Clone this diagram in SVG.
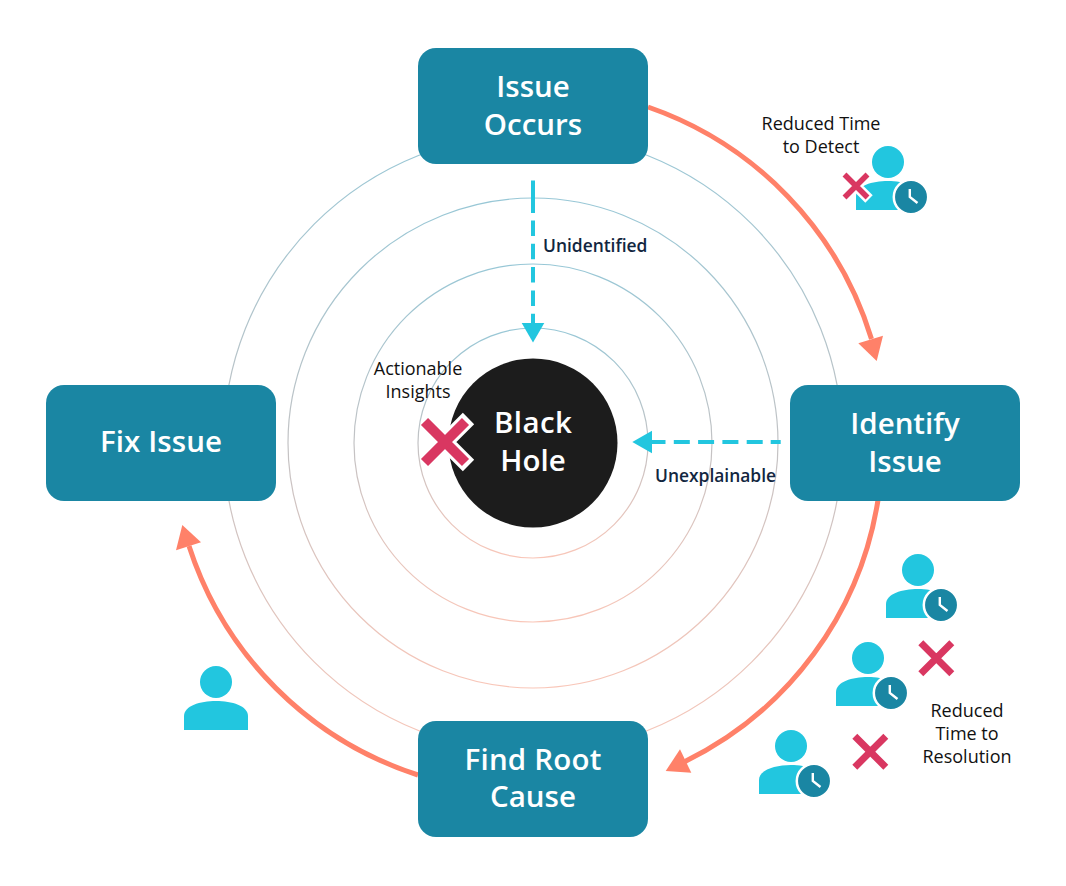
<svg xmlns="http://www.w3.org/2000/svg" width="1066" height="886" viewBox="0 0 1066 886">
<style>
text{font-family:"Open Sans","Noto Sans",sans-serif}
.ring{fill:none;stroke:url(#ringGrad);stroke-width:1.2}
.box{fill:#1A86A3}
.nt{fill:#fff;font-size:29.5px;font-weight:600;text-anchor:middle}
.lb{fill:#111;font-size:18px;text-anchor:middle}
.dl{fill:#12263F;font-size:17.4px;font-weight:600}
.arc{fill:none;stroke:#FF8169;stroke-width:5}
.ah{fill:#FF8169}
.dash{fill:none;stroke:#22C6DF;stroke-width:4}
.dh{fill:#22C6DF}
.bd{fill:#22C6DF}
.ck{fill:#1A86A3;stroke:#fff;stroke-width:2.5}
.hd{fill:none;stroke:#fff;stroke-width:2.4}
.x{fill:none;stroke:#D93761}
.halo{fill:none;stroke:#fff}
</style>
<defs>
<linearGradient id="ringGrad" x1="0" y1="0" x2="0" y2="1"><stop offset="0" stop-color="#97C7D6"/><stop offset="0.5" stop-color="#C2C2C4"/><stop offset="1" stop-color="#F9C6B8"/></linearGradient>
<g id="person"><circle cx="0" cy="0" r="16" class="bd"/><path class="bd" d="M-32 48V34C-32 24-16 19 0 19S32 24 32 34V48Z"/></g>
<g id="clock"><circle cx="23" cy="35" r="17.2" class="ck"/><path class="hd" d="M21.8 27V35L29.5 41"/></g>
</defs>
<g id="rings">
<circle class="ring" cx="533" cy="443" r="115"/>
<circle class="ring" cx="533" cy="443" r="179"/>
<circle class="ring" cx="533" cy="443" r="245"/>
<circle class="ring" cx="533" cy="443" r="309.5"/>
</g>
<g id="black-hole"><circle cx="533" cy="443" r="84.5" fill="#1C1C1C"/><text class="nt" x="533" y="433" textLength="78">Black</text><text class="nt" x="533" y="471">Hole</text></g>
<g id="connectors">
<path class="arc" d="M648 107A355 355 0 0 1 871.5 339"/><polygon class="ah" points="858.3,343.3 883,335.7 876.7,361"/>
<path class="arc" d="M878 500A352 352 0 0 1 685 761.5"/><polygon class="ah" points="680,749.3 691.3,772.7 665.7,771"/>
<path class="arc" d="M418 775A355 355 0 0 1 189 546"/><polygon class="ah" points="182.3,525 201,542.3 176,550.3"/>
<path class="dash" stroke-dasharray="32.5 7.5 15.5 7.8 15.5 7.8 15.5 7.8 15.5 7.8 15.5 7.8" d="M533 180.5V325"/><polygon class="dh" points="521.7,323 544.3,323 533,342.5"/>
<path class="dash" stroke-dasharray="10 8 16 8.3 16 8.3 16 8.3 16 8.3 16 8.3" d="M780.7 442H650"/><polygon class="dh" points="652,430.7 652,453.3 632.3,442"/>
</g>
<g id="issue-occurs"><rect class="box" x="418" y="48" width="230" height="116" rx="18"/><text class="nt" x="533" y="97">Issue</text><text class="nt" x="533" y="135">Occurs</text></g>
<g id="identify-issue"><rect class="box" x="790" y="385" width="230" height="116" rx="18"/><text class="nt" x="905" y="434">Identify</text><text class="nt" x="905" y="472">Issue</text></g>
<g id="find-root-cause"><rect class="box" x="418" y="721" width="230" height="116" rx="18"/><text class="nt" x="533" y="770" textLength="137">Find Root</text><text class="nt" x="533" y="807">Cause</text></g>
<g id="fix-issue"><rect class="box" x="46" y="385" width="230" height="116" rx="18"/><text class="nt" x="161" y="452" textLength="122">Fix Issue</text></g>
<g id="label-unidentified"><text class="dl" x="543" y="252">Unidentified</text></g>
<g id="label-unexplainable"><text class="dl" x="655" y="482">Unexplainable</text></g>
<g id="label-actionable"><text class="lb" x="418" y="375">Actionable</text><text class="lb" x="418" y="398">Insights</text></g>
<g id="label-detect"><text class="lb" x="821" y="130">Reduced Time</text><text class="lb" x="821" y="153">to Detect</text></g>
<g id="label-resolution"><text class="lb" x="967" y="717">Reduced</text><text class="lb" x="967" y="740">Time to</text><text class="lb" x="967" y="763">Resolution</text></g>
<g id="user-detect" transform="translate(888 162)"><use href="#person"/><use href="#clock"/></g>
<g id="x-detect" transform="translate(856 186)"><path class="halo" stroke-width="10.5" d="M-13-13L13 13M-13 13L13-13"/><path class="x" stroke-width="5.5" d="M-11.5-11.5L11.5 11.5M-11.5 11.5L11.5-11.5"/></g>
<g id="user-res-1" transform="translate(918 570)"><use href="#person"/><use href="#clock"/></g>
<g id="user-res-2" transform="translate(868 658)"><use href="#person"/><use href="#clock"/></g>
<g id="user-res-3" transform="translate(791 746)"><use href="#person"/><use href="#clock"/></g>
<g id="x-res-1" transform="translate(936.3 658.3)"><path class="x" stroke-width="7" d="M-15.5-15.5L15.5 15.5M-15.5 15.5L15.5-15.5"/></g>
<g id="x-res-2" transform="translate(870.3 751.7)"><path class="x" stroke-width="7" d="M-15.5-15.5L15.5 15.5M-15.5 15.5L15.5-15.5"/></g>
<g id="user-fix" transform="translate(216 682)"><use href="#person"/></g>
<g id="x-center" transform="translate(445 442)"><path class="halo" stroke-width="16" d="M0 0L23.5-23.5M0 0L23.5 23.5"/><path class="x" stroke-width="10" d="M-20.5-20.5L20.5 20.5M-20.5 20.5L20.5-20.5"/></g>
</svg>
